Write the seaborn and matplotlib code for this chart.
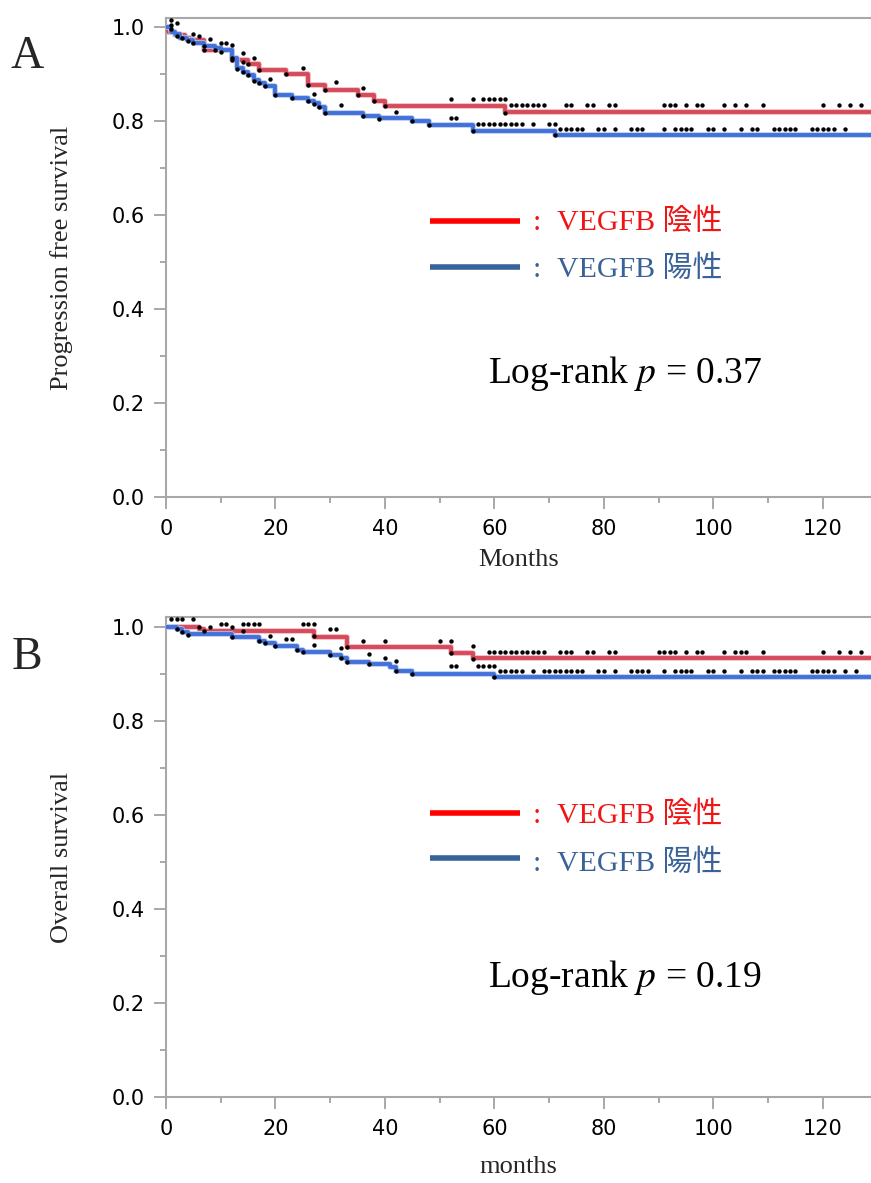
import numpy as np
import matplotlib
matplotlib.use("Agg")
import matplotlib.pyplot as plt
import matplotlib.patheffects as pe
from matplotlib.ticker import MultipleLocator
import seaborn as sns

# ---------------- data ----------------
# Panel A: progression free survival (Kaplan-Meier step curves)
pfs_neg_t = [0, 0.3, 1.6, 3.5, 4.4, 7, 12, 15, 17, 22, 26, 29, 35, 38, 40, 62, 130]
pfs_neg_s = [1.0, 0.990, 0.983, 0.977, 0.972, 0.951, 0.930, 0.921, 0.909, 0.900,
             0.877, 0.866, 0.855, 0.843, 0.832, 0.819, 0.819]
pfs_pos_t = [0, 1, 1.6, 2.6, 3.8, 5, 7, 9, 10, 12, 13, 14, 15, 16, 17, 18, 20, 23,
             26, 27, 28, 29, 36, 39, 45, 48, 56, 71, 130]
pfs_pos_s = [1.0, 0.990, 0.985, 0.977, 0.972, 0.965, 0.959, 0.955, 0.951, 0.935,
             0.912, 0.905, 0.898, 0.887, 0.880, 0.874, 0.855, 0.848, 0.843, 0.838,
             0.830, 0.818, 0.811, 0.806, 0.799, 0.791, 0.779, 0.770, 0.770]

# censor marks, panel A (scattered early ones)
pfs_mark_t = [1, 2, 1, 1, 2, 3, 4, 5, 5, 6, 8, 7, 7, 9, 10, 10, 11, 12, 12, 12,
              14, 14, 16, 15, 17, 13, 14, 15, 16, 17, 18, 19, 20, 23, 22, 25, 26,
              26, 27, 27, 28, 29, 29, 31, 32, 35, 36, 36, 38, 39, 40, 42, 45, 48,
              52, 52, 53, 56, 56, 62, 71]
pfs_mark_s = [1.015, 1.009, 1.004, 0.995, 0.981, 0.977, 0.970, 0.965, 0.985, 0.981,
              0.974, 0.960, 0.951, 0.952, 0.947, 0.965, 0.965, 0.962, 0.935, 0.930,
              0.945, 0.925, 0.935, 0.921, 0.909, 0.910, 0.904, 0.898, 0.886, 0.880,
              0.874, 0.889, 0.855, 0.848, 0.899, 0.913, 0.877, 0.843, 0.857, 0.836,
              0.830, 0.866, 0.818, 0.882, 0.833, 0.855, 0.870, 0.811, 0.843, 0.805,
              0.832, 0.820, 0.799, 0.791, 0.847, 0.807, 0.807, 0.847, 0.779, 0.818,
              0.770]
# censor mark rows, panel A
pfs_row1_t = [58, 59, 60, 61, 62]
pfs_row1_s = 0.847
pfs_row2_t = [63, 64, 65, 66, 67, 68, 69, 73, 74, 77, 78, 81, 82, 91, 92, 93, 95,
              97, 98, 102, 104, 106, 109, 120, 123, 125, 127]
pfs_row2_s = 0.834
pfs_row3_t = [57, 58, 59, 60, 61, 62, 63, 64, 65, 67, 70, 71]
pfs_row3_s = 0.794
pfs_row4_t = [72, 73, 74, 75, 76, 79, 80, 82, 85, 86, 87, 91, 93, 94, 95, 96, 99,
              100, 102, 105, 107, 108, 111, 112, 113, 114, 115, 118, 119, 120, 121,
              122, 124]
pfs_row4_s = 0.784

# Panel B: overall survival
os_neg_t = [0, 6, 7, 27, 33, 52, 56, 130]
os_neg_s = [1.0, 0.996, 0.991, 0.979, 0.957, 0.944, 0.933, 0.933]
os_pos_t = [0, 2, 3, 4, 12, 17, 18, 20, 24, 25, 30, 32, 33, 37, 41, 42, 45, 60, 130]
os_pos_s = [1.0, 0.996, 0.990, 0.985, 0.978, 0.971, 0.965, 0.960, 0.952, 0.946,
            0.940, 0.933, 0.926, 0.921, 0.914, 0.906, 0.901, 0.893, 0.893]

os_mark_t = [1, 2, 3, 5, 2, 3, 4, 6, 7, 8, 10, 11, 12, 12, 14, 15, 16, 17, 14, 17,
             18, 19, 20, 22, 23, 24, 25, 25, 26, 27, 27, 27, 30, 31, 30, 32, 32,
             33, 33, 36, 37, 37, 40, 40, 42, 42, 45, 50, 52, 52, 56, 56, 60]
os_mark_s = [1.016, 1.016, 1.016, 1.016, 0.996, 0.990, 0.983, 0.999, 0.991, 0.999,
             1.006, 1.006, 0.999, 0.978, 1.006, 1.006, 1.006, 1.006, 0.992, 0.971,
             0.965, 0.981, 0.960, 0.974, 0.974, 0.952, 0.946, 1.006, 1.006, 1.006,
             0.981, 0.962, 0.996, 0.996, 0.940, 0.955, 0.933, 0.957, 0.926, 0.971,
             0.942, 0.921, 0.971, 0.935, 0.928, 0.906, 0.900, 0.971, 0.971, 0.944,
             0.960, 0.932, 0.893]
os_row1_t = [52, 53, 57, 58, 59, 60]
os_row1_s = 0.916
os_row2_t = [59, 60, 61, 62, 63, 64, 65, 66, 67, 68, 69, 72, 73, 74, 77, 78, 81, 82,
             90, 91, 92, 93, 95, 97, 98, 102, 104, 105, 106, 109, 120, 123, 125, 127]
os_row2_s = 0.947
os_row3_t = [61, 62, 63, 64, 65, 67, 69, 70, 71, 72, 73, 74, 75, 76, 79, 80, 82, 85,
             86, 87, 88, 91, 93, 94, 95, 96, 99, 100, 102, 105, 107, 108, 109, 111,
             112, 113, 114, 115, 118, 119, 120, 121, 122, 124, 126]
os_row3_s = 0.907

x_ticks = [0, 20, 40, 60, 80, 100, 120]
y_ticks = [0.0, 0.2, 0.4, 0.6, 0.8, 1.0]
y_tick_labels = ["0.0", "0.2", "0.4", "0.6", "0.8", "1.0"]
legend_labels = ["VEGFB 陰性", "VEGFB 陽性"]
pvals = ["0.37", "0.19"]

# ---------------- style ----------------
sns.set_theme(style="ticks")
plt.rcParams["font.family"] = ["DejaVu Sans"]
plt.rcParams["mathtext.fontset"] = "stix"

RED = "#d64b5b"
RED_HALO = "#efb3ba"
BLUE = "#4272d9"
BLUE_HALO = "#b3c6f0"
GRAY = "#a8a8a8"
SERIF = ["Liberation Serif", "Noto Sans CJK JP", "DejaVu Sans"]
LEG_COLORS = ["#f01515", "#3b6298"]
LEG_LINE_COLORS = ["#ff0000", "#38629a"]

fig = plt.figure(figsize=(8.71, 11.83), dpi=100)
axA = fig.add_axes([166 / 871, 1 - 497 / 1183, 705 / 871, 479 / 1183])
axB = fig.add_axes([166 / 871, 1 - 1097 / 1183, 705 / 871, 480 / 1183])


def build_marks(t, s, rows):
    tt = list(t)
    ss = list(s)
    for rt, rs in rows:
        tt += list(rt)
        ss += [rs] * len(rt)
    return tt, ss


def draw(ax, neg_t, neg_s, pos_t, pos_s, mt, ms, ylabel, xlabel, xlab_y, pval,
         ytop, line_y, text_y, p_y):
    sns.lineplot(x=neg_t, y=neg_s, ax=ax, drawstyle="steps-post", color=RED,
                 lw=2.8, estimator=None, sort=False, zorder=3,
                 path_effects=[pe.Stroke(linewidth=4.0, foreground=RED_HALO),
                               pe.Normal()])
    sns.lineplot(x=pos_t, y=pos_s, ax=ax, drawstyle="steps-post", color=BLUE,
                 lw=2.8, estimator=None, sort=False, zorder=3,
                 path_effects=[pe.Stroke(linewidth=4.0, foreground=BLUE_HALO),
                               pe.Normal()])
    sns.scatterplot(x=mt, y=ms, ax=ax, color="black", s=10, linewidth=0,
                    zorder=5)

    ax.set_xlim(0, 128.8)
    ax.set_ylim(0, ytop)
    ax.set_xticks(x_ticks)
    ax.set_xticklabels([str(v) for v in x_ticks])
    ax.set_yticks(y_ticks)
    ax.set_yticklabels(y_tick_labels)
    ax.xaxis.set_minor_locator(MultipleLocator(10))
    ax.yaxis.set_minor_locator(MultipleLocator(0.1))
    ax.tick_params(which="major", length=8.5, width=1.4, color=GRAY,
                   labelsize=15, labelcolor="black", pad=7, direction="out")
    ax.tick_params(which="minor", length=4.2, width=1.4, color=GRAY,
                   direction="out")
    for side in ["left", "bottom", "top"]:
        ax.spines[side].set_color(GRAY)
        ax.spines[side].set_linewidth(1.5)
        ax.spines[side].set_visible(True)
    ax.spines["right"].set_visible(False)

    ax.set_xlabel(xlabel, family=SERIF, fontsize=19, va="center")
    ax.xaxis.set_label_coords(0.5, xlab_y)
    ax.set_ylabel(ylabel, family=SERIF, fontsize=19, va="center")
    ax.yaxis.set_label_coords(-0.148, 0.5)

    # manual legend
    for i in range(2):
        ax.plot([0.3745, 0.502], [line_y[i], line_y[i]], transform=ax.transAxes,
                color=LEG_LINE_COLORS[i], lw=4.0, solid_capstyle="butt",
                zorder=4)
        ax.text(0.526, text_y[i], ":", transform=ax.transAxes,
                color=LEG_COLORS[i], fontsize=21.5, va="baseline",
                ha="center", family=SERIF)
        ax.text(0.554, text_y[i], legend_labels[i], transform=ax.transAxes,
                color=LEG_COLORS[i], fontsize=21.5, va="baseline", ha="left",
                family=SERIF)
    ax.text(0.457, p_y, "Log-rank $p$ = " + pval, transform=ax.transAxes,
            color="black", fontsize=27, va="baseline", ha="left",
            family=SERIF)


mA_t, mA_s = build_marks(pfs_mark_t, pfs_mark_s,
                         [(pfs_row1_t, pfs_row1_s), (pfs_row2_t, pfs_row2_s),
                          (pfs_row3_t, pfs_row3_s), (pfs_row4_t, pfs_row4_s)])
mB_t, mB_s = build_marks(os_mark_t, os_mark_s,
                         [(os_row1_t, os_row1_s), (os_row2_t, os_row2_s),
                          (os_row3_t, os_row3_s)])

draw(axA, pfs_neg_t, pfs_neg_s, pfs_pos_t, pfs_pos_s, mA_t, mA_s,
     "Progression free survival", "Months", -0.131, pvals[0], 479 / 470,
     [(497 - 221) / 479, (497 - 267) / 479],
     [(497 - 230) / 479, (497 - 277) / 479], (497 - 383) / 479)
draw(axB, os_neg_t, os_neg_s, os_pos_t, os_pos_s, mB_t, mB_s,
     "Overall survival", "months", -0.146, pvals[1], 480 / 470,
     [(1097 - 813) / 480, (1097 - 858) / 480],
     [(1097 - 823) / 480, (1097 - 871) / 480], (1097 - 987) / 480)

fig.text(10 / 871, 1 - 68 / 1183, "A", family=SERIF, fontsize=33,
         va="baseline", ha="left")
fig.text(12 / 871, 1 - 669 / 1183, "B", family=SERIF, fontsize=33,
         va="baseline", ha="left")

fig.savefig("out.png", dpi=100)
